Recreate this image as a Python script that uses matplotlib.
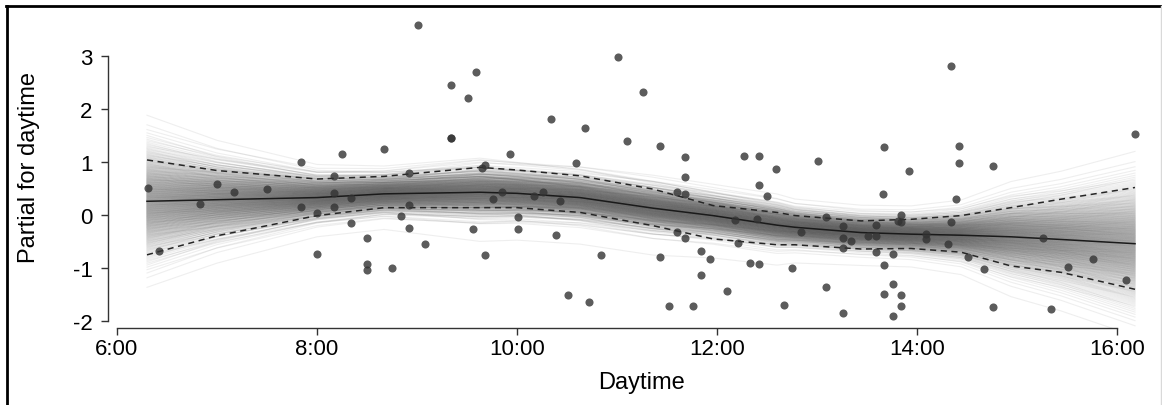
import numpy as np
import matplotlib
matplotlib.use("Agg")
import matplotlib.pyplot as plt
from matplotlib.lines import Line2D
from statistics import NormalDist

plt.rcParams['font.family'] = ['Liberation Sans', 'DejaVu Sans']
plt.rcParams['axes.unicode_minus'] = False

# observed partial residuals (hour of day, partial effect)
hours = [6.31, 6.42, 6.83, 7.00, 7.17, 7.50, 7.84, 7.84, 8.00, 8.00,
         8.17, 8.17, 8.17, 8.25, 8.34, 8.34, 8.50, 8.50, 8.50, 8.67,
         8.75, 8.84, 8.92, 8.92, 8.92, 9.01, 9.08, 9.34, 9.34, 9.34,
         9.51, 9.56, 9.59, 9.65, 9.68, 9.68, 9.76, 9.85, 9.93, 10.01,
         10.01, 10.17, 10.26, 10.34, 10.39, 10.43, 10.51, 10.59, 10.68, 10.72,
         10.84, 11.01, 11.10, 11.26, 11.43, 11.43, 11.52, 11.60, 11.60, 11.68,
         11.68, 11.68, 11.68, 11.76, 11.84, 11.84, 11.93, 12.10, 12.18, 12.21,
         12.27, 12.33, 12.40, 12.42, 12.42, 12.42, 12.50, 12.59, 12.67, 12.75,
         12.84, 13.01, 13.09, 13.09, 13.26, 13.26, 13.26, 13.26, 13.34, 13.51,
         13.59, 13.59, 13.59, 13.66, 13.67, 13.67, 13.67, 13.76, 13.76, 13.76,
         13.81, 13.84, 13.84, 13.84, 13.84, 13.92, 14.09, 14.09, 14.31, 14.34,
         14.34, 14.39, 14.42, 14.42, 14.51, 14.67, 14.76, 14.76, 15.26, 15.34,
         15.51, 15.76, 16.09, 16.18]
partial = [0.52, -0.67, 0.21, 0.58, 0.43, 0.50, 1.01, 0.16, 0.03, -0.74,
           0.73, 0.42, 0.16, 1.15, 0.33, -0.15, -0.43, -0.93, -1.03, 1.24,
           -0.99, -0.02, 0.79, 0.19, -0.25, 3.58, -0.54, 2.46, 1.45, 1.45,
           2.21, -0.26, 2.69, 0.88, 0.94, -0.76, 0.31, 0.43, 1.15, -0.04,
           -0.26, 0.36, 0.43, 1.81, -0.38, 0.26, -1.50, 0.99, 1.65, -1.64,
           -0.76, 2.98, 1.40, 2.32, 1.31, -0.79, -1.72, 0.43, -0.31, 1.09,
           0.72, 0.40, -0.43, -1.72, -0.67, -1.13, -0.83, -1.44, -0.10, -0.52,
           1.11, -0.90, -0.07, 1.11, 0.57, -0.92, 0.36, 0.87, -1.70, -0.99,
           -0.31, 1.02, -0.04, -1.36, -0.20, -0.43, -0.62, -1.84, -0.48, -0.40,
           -0.18, -0.39, -0.70, 0.39, 1.29, -0.94, -1.48, -0.74, -1.30, -1.91,
           -0.11, 0.01, -0.14, -1.50, -1.72, 0.84, -0.35, -0.45, -0.54, 2.82,
           -0.14, 0.30, 1.31, 0.99, -0.79, -1.01, 0.93, -1.73, -0.44, -1.78,
           -0.98, -0.82, -1.23, 1.53]

# smooth estimate with its 95% interval
grid = [6.30, 7.00, 8.00, 8.67, 9.63, 10.00, 10.63, 11.36, 11.96, 12.60,
        12.78, 13.44, 13.94, 14.44, 14.94, 15.44, 16.18]
fit = [0.26, 0.29, 0.33, 0.40, 0.43, 0.41, 0.33, 0.13, -0.01, -0.19,
       -0.23, -0.33, -0.36, -0.38, -0.41, -0.46, -0.54]
upper = [1.04, 0.84, 0.68, 0.73, 0.90, 0.85, 0.74, 0.49, 0.18, 0.05,
         -0.01, -0.11, -0.08, -0.01, 0.14, 0.30, 0.52]
lower = [-0.75, -0.39, -0.01, 0.14, 0.14, 0.14, 0.05, -0.20, -0.45, -0.56,
         -0.56, -0.64, -0.63, -0.70, -0.96, -1.08, -1.40]

xticks = [6, 8, 10, 12, 14, 16]
xlabels = ["6:00", "8:00", "10:00", "12:00", "14:00", "16:00"]
yticks = [-2, -1, 0, 1, 2, 3]

W, H = 1162, 406
fig = plt.figure(figsize=(W / 100, H / 100), dpi=100)
ax = fig.add_axes([108 / W, 1 - 329 / H, (W - 108) / W, (329 - 14.6) / H])
ax.set_xlim(5.91, 16.45)
ax.set_ylim(-2.13, 3.80)

# fan of sampled curves around the fit, spread by the interval width;
# each curve gets its own quantile at the start and at the end
g = np.array(grid)
f = np.array(fit)
sd = 1.15 * (np.array(upper) - np.array(lower)) / (2 * 1.96)
w = (g - g[0]) / (g[-1] - g[0])
norm = np.sqrt((1 - w) ** 2 + w ** 2)
nd = NormalDist()
n_draws = 500
zq = np.array([nd.inv_cdf(q) for q in (np.arange(n_draws) + 0.5) / n_draws])
order = (np.arange(n_draws) * 193) % n_draws
for k in range(n_draws):
    z1, z2 = zq[k], zq[order[k]]
    curve = f + sd * (z1 * (1 - w) + z2 * w) / norm
    ax.plot(g, curve, color='0.38', alpha=0.1, lw=0.8, zorder=1)

ax.plot(grid, upper, color='0.15', lw=1.1, ls=(0, (4, 3)), zorder=3)
ax.plot(grid, lower, color='0.15', lw=1.1, ls=(0, (4, 3)), zorder=3)
ax.plot(grid, fit, color='0.1', lw=1.1, zorder=3)

ax.scatter(hours, partial, s=34, color='0.2', alpha=0.8, lw=0, zorder=4)

for side in ('top', 'right'):
    ax.spines[side].set_visible(False)
ax.spines['left'].set_bounds(-2, 3)
ax.spines['bottom'].set_bounds(6, 16)
for side in ('left', 'bottom'):
    ax.spines[side].set_color('0.2')
    ax.spines[side].set_linewidth(1.0)
ax.set_xticks(xticks)
ax.set_xticklabels(xlabels)
ax.set_yticks(yticks)
ax.tick_params(axis='both', direction='out', length=5, width=1.0, color='0.2')
ax.tick_params(axis='x', labelsize=16, pad=2)
ax.tick_params(axis='y', labelsize=16, pad=6)
ax.patch.set_alpha(0)

fig.text(641 / W, 1 - 383 / H, "Daytime", fontsize=17, ha='center', va='center')
fig.text(29 / W, 1 - 168 / H, "Partial for daytime", fontsize=17,
         ha='center', va='center', rotation=90)

# outer frame
fig.add_artist(Line2D([7 / W, 7 / W], [0, 1 - 6.5 / H], transform=fig.transFigure,
                      color='black', lw=2))
fig.add_artist(Line2D([6 / W, 1], [1 - 6.5 / H, 1 - 6.5 / H], transform=fig.transFigure,
                      color='black', lw=2))
fig.add_artist(Line2D([1160.5 / W, 1160.5 / W], [0, 1 - 6.5 / H], transform=fig.transFigure,
                      color='0.85', lw=1))

fig.savefig("out.png", dpi=100)
